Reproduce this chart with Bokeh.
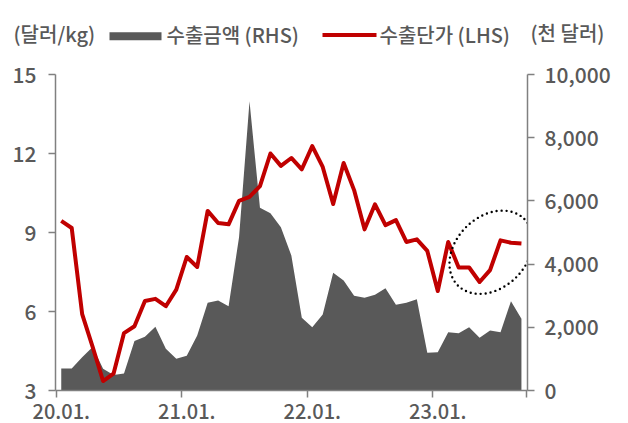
from bokeh.plotting import figure
from bokeh.layouts import column
from bokeh.models import LinearAxis, Range1d, FixedTicker, NumeralTickFormatter
from bokeh.core.properties import value
from bokeh.embed import file_html
from bokeh.resources import INLINE

# ---- data (monthly, 2020.01 - 2023.09) ----
unit_price = [9.44, 9.17, 5.90, 4.66, 3.36, 3.64, 5.18, 5.44, 6.40, 6.48, 6.20, 6.83,
              8.07, 7.69, 9.82, 9.36, 9.31, 10.20, 10.35, 10.76, 12.00, 11.53, 11.83, 11.40,
              12.28, 11.49, 10.08, 11.64, 10.61, 9.12, 10.07, 9.28, 9.47, 8.64, 8.74, 8.30,
              6.78, 8.64, 7.67, 7.67, 7.12, 7.57, 8.70, 8.61, 8.58]
export_amount = [700, 700, 1055, 1380, 690, 490, 540, 1570, 1700, 2015, 1318, 1002,
                 1097, 1741, 2774, 2848, 2669, 4852, 9150, 5781, 5612, 5169, 4272, 2300,
                 2004, 2405, 3724, 3481, 2996, 2932, 3027, 3238, 2711, 2774, 2890, 1192,
                 1213, 1846, 1815, 2004, 1666, 1899, 1846, 2827, 2268]
month_idx = list(range(len(unit_price)))
year_label_idx = [0, 12, 24, 36]
year_labels = ["20.01.", "21.01.", "22.01.", "23.01."]
year_boundaries = [-0.5, 11.5, 23.5, 35.5, 44.5]
lhs_ticks = [3, 6, 9, 12, 15]
rhs_ticks = [0, 2000, 4000, 6000, 8000, 10000]
series_names = ["수출금액 (RHS)", "수출단가 (LHS)"]
unit_lhs = "(달러/kg)"
unit_rhs = "(천 달러)"
# highlight ellipse around the latest months
hl_x, hl_y = [41.1], [8.25]

FONT = "Noto Sans CJK KR Medium, Noto Sans CJK KR"
TXT = "#595959"
AX = "#808080"
GRAY = "#595959"
RED = "#C00000"
HEADER_H = 50

# ---------------- header (units + legend) ----------------
hd = figure(width=628, height=HEADER_H, output_backend="svg", toolbar_location=None,
            x_range=Range1d(0, 628), y_range=Range1d(HEADER_H, 0),
            x_axis_location=None, y_axis_location=None,
            min_border_left=0, min_border_right=0, min_border_top=0, min_border_bottom=0)
hd.frame_align = False
hd.outline_line_color = None
hd.grid.grid_line_color = None

hd.text(x=[13], y=[32.5], text=[unit_lhs], text_font=value(FONT), text_font_size="20px",
        text_color=TXT, text_baseline="middle", text_align="left")
hd.rect(x=[135], y=[35.7], width=52, height=8, width_units="screen", height_units="screen",
        fill_color=GRAY, line_color=None)
hd.text(x=[166], y=[33.5], text=[series_names[0]], text_font=value(FONT), text_font_size="20px",
        text_color=TXT, text_baseline="middle", text_align="left")
hd.segment(x0=[322], y0=[34.5], x1=[376], y1=[34.5], line_color=RED, line_width=4)
hd.text(x=[379], y=[33.5], text=[series_names[1]], text_font=value(FONT), text_font_size="20px",
        text_color=TXT, text_baseline="middle", text_align="left")
hd.text(x=[530], y=[32], text=[unit_rhs], text_font=value(FONT), text_font_size="20px",
        text_color=TXT, text_baseline="middle", text_align="left")

# ---------------- main chart ----------------
p = figure(width=628, height=423 - HEADER_H, output_backend="svg", toolbar_location=None,
           x_range=Range1d(-0.55, 44.58), y_range=Range1d(3, 15),
           x_axis_location=None, y_axis_location=None,
           min_border_left=55, min_border_right=101, min_border_top=74 - HEADER_H,
           min_border_bottom=33)
p.frame_align = False
p.extra_y_ranges = {"rhs": Range1d(0, 10000)}
p.outline_line_color = None
p.grid.grid_line_color = None

p.varea(x=month_idx, y1=0, y2=export_amount, y_range_name="rhs", fill_color=GRAY)
p.line(x=month_idx, y=unit_price, line_color=RED, line_width=4, line_join="round")

p.ellipse(x=hl_x, y=hl_y, width=94, height=71, angle=0.785,
          width_units="screen", height_units="screen",
          fill_alpha=0, line_color="black", line_width=2.4, line_dash="0 5", line_cap="round")


def style_axis(ax):
    ax.axis_line_color = AX
    ax.axis_line_width = 1.5
    ax.major_tick_line_color = AX
    ax.major_tick_line_width = 1.5
    ax.minor_tick_line_color = None
    ax.major_tick_in = 0
    ax.major_tick_out = 7
    ax.major_label_text_font = FONT
    ax.major_label_text_font_size = "21px"
    ax.major_label_text_color = TXT


left = LinearAxis(ticker=FixedTicker(ticks=lhs_ticks))
style_axis(left)
left.major_label_standoff = 12
p.add_layout(left, "left")

right = LinearAxis(y_range_name="rhs", ticker=FixedTicker(ticks=rhs_ticks),
                   formatter=NumeralTickFormatter(format="0,0"))
style_axis(right)
right.major_label_standoff = 10
p.add_layout(right, "right")

# x axis: labels on the January category, tick marks on year boundaries
xb = LinearAxis(ticker=FixedTicker(ticks=year_label_idx, minor_ticks=year_boundaries),
                major_label_overrides={i: s for i, s in zip(year_label_idx, year_labels)})
style_axis(xb)
xb.major_label_text_font_size = "20px"
xb.major_tick_line_color = None
xb.major_tick_out = 0
xb.minor_tick_line_color = AX
xb.minor_tick_line_width = 1.5
xb.minor_tick_in = 0
xb.minor_tick_out = 7
xb.major_label_standoff = 6
p.add_layout(xb, "below")

open("out.html", "w").write(file_html(column(hd, p, spacing=0), INLINE))
